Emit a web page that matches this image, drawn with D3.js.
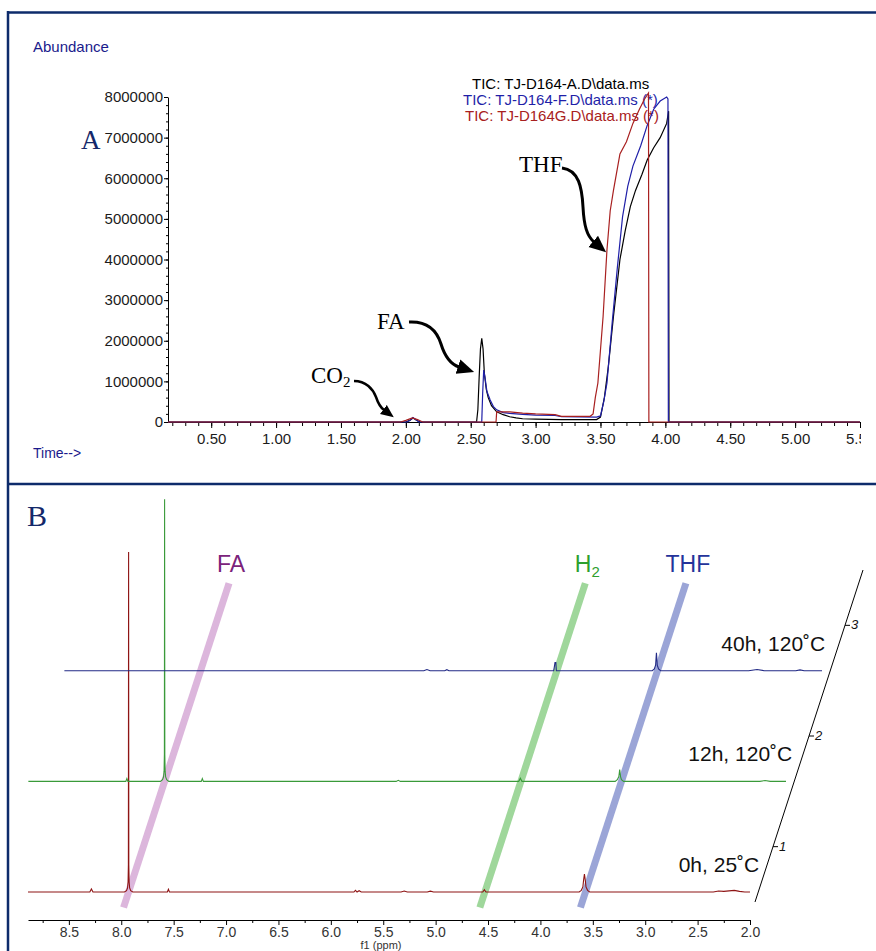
<!DOCTYPE html>
<html>
<head>
<meta charset="utf-8">
<script src="https://cdn.jsdelivr.net/npm/d3@7"></script>
<style>
  html, body { margin: 0; padding: 0; background: #fff; }
  svg { display: block; }
</style>
</head>
<body>
<svg id="fig" width="876" height="951"></svg>
<script>
// ---------- panel A : GC-MS total ion chromatograms ----------
var gcTimeTicks = [0.5, 1.0, 1.5, 2.0, 2.5, 3.0, 3.5, 4.0, 4.5, 5.0, 5.5];
var gcAbundTicks = [0, 1000000, 2000000, 3000000, 4000000, 5000000, 6000000, 7000000, 8000000];
var gcNames = ["TIC: TJ-D164-A.D\\data.ms", "TIC: TJ-D164-F.D\\data.ms (*)", "TIC: TJ-D164G.D\\data.ms (*)"];

// [time (min), abundance]
var ticA = [
  [0.167,0],[2.00,0],[2.03,40000],[2.055,100000],[2.08,50000],[2.11,0],
  [2.545,0],[2.555,300000],[2.565,1100000],[2.575,1800000],[2.585,2060000],[2.595,1800000],
  [2.605,1200000],[2.62,800000],[2.635,600000],[2.66,400000],[2.70,250000],[2.75,180000],
  [2.80,130000],[2.85,100000],[2.90,80000],[3.00,70000],[3.20,60000],[3.47,60000],
  [3.50,120000],[3.53,600000],[3.56,1350000],[3.60,2600000],[3.65,4000000],[3.69,4700000],
  [3.73,5300000],[3.77,5700000],[3.82,6100000],[3.86,6450000],[3.91,6750000],[3.96,7000000],
  [4.01,7350000],[4.025,7650000],[4.028,0],[5.5,0]
];
var ticF = [
  [0.167,0],[2.01,0],[2.035,50000],[2.055,110000],[2.08,50000],[2.10,0],
  [2.585,0],[2.592,700000],[2.60,1280000],[2.61,1100000],[2.625,750000],[2.65,540000],
  [2.675,380000],[2.70,300000],[2.75,230000],[2.80,210000],[2.90,190000],[3.00,170000],
  [3.15,160000],[3.20,130000],[3.47,120000],[3.50,150000],[3.525,500000],[3.55,960000],
  [3.59,2440000],[3.63,3800000],[3.67,5050000],[3.71,5800000],[3.75,6300000],[3.81,6800000],
  [3.86,7300000],[3.91,7700000],[3.96,7900000],[4.01,8000000],[4.02,7950000],[4.023,0],[5.5,0]
];
var ticG = [
  [0.167,0],[1.96,0],[2.00,40000],[2.05,100000],[2.09,60000],[2.13,0],
  [2.695,0],[2.70,250000],[2.80,250000],[2.90,220000],[3.00,200000],[3.10,190000],
  [3.15,180000],[3.20,140000],[3.42,140000],[3.443,200000],[3.46,600000],[3.48,960000],
  [3.52,2590000],[3.55,4240000],[3.575,5200000],[3.60,5700000],[3.65,6600000],[3.70,6900000],
  [3.75,7350000],[3.80,7700000],[3.84,7950000],[3.87,8100000],[3.873,0],[5.5,0]
];

// ---------- panel B : 1H NMR stack ----------
var nmrPpmTicks = [8.5, 8.0, 7.5, 7.0, 6.5, 6.0, 5.5, 5.0, 4.5, 4.0, 3.5, 3.0, 2.5, 2.0];
var nmrDepthTicks = [1, 2, 3];
var nmrLabels = ["0h, 25\u02DAC", "12h, 120\u02DAC", "40h, 120\u02DAC"];
var nmrMarkers = ["FA", "H2", "THF"];
var nmrMarkerPpm = [7.93, 4.53, 3.57];

// [ppm, intensity (% of the 0h formate peak)]
var nmr0h = [
  [8.89,0],[8.30,0],[8.285,0.9],[8.27,0],
  [7.97,0],[7.95,0.4],[7.94,1.2],[7.935,3],[7.932,8],[7.93,100],[7.928,8],[7.925,3],[7.92,1.2],[7.91,0.4],[7.89,0],
  [7.56,0],[7.55,0.8],[7.54,0],
  [5.78,0],[5.765,0.5],[5.75,0],[5.73,0.4],[5.71,0],[5.33,0],[5.30,0.3],[5.27,0],[5.08,0],[5.05,0.25],[5.02,0],
  [4.55,0],[4.535,0.7],[4.52,0],
  [3.63,0],[3.61,0.5],[3.595,1.5],[3.588,3.5],[3.58,5.3],[3.572,3.5],[3.565,1.5],[3.55,0.5],[3.53,0],
  [2.35,0],[2.30,0.3],[2.25,0.2],[2.20,0.35],[2.15,0.5],[2.10,0.2],[2.05,0],[2.0,0]
];
var nmr12h = [
  [9.23,0],[8.30,0],[8.29,0.8],[8.28,0],
  [7.97,0],[7.95,0.5],[7.94,1.3],[7.935,3],[7.932,8],[7.93,83],[7.928,8],[7.925,3],[7.92,1.3],[7.91,0.5],[7.89,0],
  [7.58,0],[7.57,0.8],[7.56,0],
  [5.72,0],[5.70,0.3],[5.68,0],
  [4.55,0],[4.535,0.9],[4.52,0],
  [3.63,0],[3.61,0.5],[3.595,1.4],[3.587,3.5],[3.579,1.4],[3.57,0.5],[3.55,0],
  [2.25,0],[2.20,0.25],[2.15,0],[2.0,0]
];
var nmr40h = [
  [9.23,0],[5.80,0],[5.77,0.35],[5.74,0],[5.60,0],[5.58,0.3],[5.56,0],
  [4.56,0],[4.548,2.4],[4.54,2.4],[4.535,0],
  [3.62,0],[3.60,0.5],[3.588,1.6],[3.58,5.3],[3.572,1.6],[3.56,0.5],[3.54,0],
  [2.70,0],[2.62,0.35],[2.55,0],[2.25,0],[2.21,0.25],[2.17,0],[2.0,0]
];

var sans = "'Liberation Sans', Arial, sans-serif";
var serif = "'Liberation Serif', 'Times New Roman', serif";
var navy = "#0d2b6b";

var svg = d3.select("#fig");
var defs = svg.append("defs");
defs.append("clipPath").attr("id", "clipA")
  .append("rect").attr("x", 0).attr("y", -500).attr("width", 861).attr("height", 1000);

function arrowHead(id, size) {
  defs.append("marker")
    .attr("id", id)
    .attr("viewBox", "0 -8 16 16")
    .attr("refX", 1).attr("refY", 0)
    .attr("markerUnits", "userSpaceOnUse")
    .attr("markerWidth", size).attr("markerHeight", size)
    .attr("orient", "auto")
    .append("path").attr("d", "M0,-7L16,0L0,7Z").attr("fill", "#000");
}
arrowHead("headBig", 17);
arrowHead("headSmall", 13);

// frame
svg.append("line").attr("x1", 7).attr("x2", 876).attr("y1", 12.5).attr("y2", 12.5)
  .attr("stroke", navy).attr("stroke-width", 2.5);
svg.append("line").attr("x1", 7).attr("x2", 876).attr("y1", 484).attr("y2", 484)
  .attr("stroke", navy).attr("stroke-width", 2.5);
svg.append("line").attr("x1", 8).attr("x2", 8).attr("y1", 11).attr("y2", 951)
  .attr("stroke", navy).attr("stroke-width", 2.5);

// ================= panel A =================
var pA = svg.append("g");
var xT = d3.scaleLinear().domain([0.167, 5.5]).range([168, 860]);
var yA = d3.scaleLinear().domain([0, 8000000]).range([422, 97]);

pA.append("text").attr("x", 33).attr("y", 52).text("Abundance")
  .attr("font-family", sans).attr("font-size", 15).attr("fill", "#1a1a8c");
pA.append("text").attr("x", 33).attr("y", 458).text("Time-->")
  .attr("font-family", sans).attr("font-size", 14).attr("fill", "#1a1a8c");
pA.append("text").attr("x", 81).attr("y", 149).text("A")
  .attr("font-family", serif).attr("font-size", 27).attr("fill", "#14286a");

// y axis
var yMinor = d3.range(0, 8000001, 200000);
pA.append("g").attr("transform", "translate(168,0)")
  .call(d3.axisLeft(yA).tickValues(yMinor).tickSize(2).tickSizeOuter(0).tickFormat(""))
  .call(g => g.select(".domain").remove());
var gy = pA.append("g").attr("transform", "translate(168,0)")
  .call(d3.axisLeft(yA).tickValues(gcAbundTicks).tickSize(4).tickSizeOuter(0).tickPadding(1).tickFormat(d3.format("d")));
gy.attr("font-family", sans).attr("font-size", 15);
gy.selectAll("text").attr("fill", "#1b1b1b");

// x axis
var xMinor = d3.range(2, 56).map(d => d / 10);
pA.append("g").attr("transform", "translate(0,422)").attr("clip-path", "url(#clipA)")
  .call(d3.axisBottom(xT).tickValues(xMinor).tickSize(4).tickSizeOuter(0).tickFormat(""))
  .call(g => g.select(".domain").remove());
var gx = pA.append("g").attr("transform", "translate(0,422)").attr("clip-path", "url(#clipA)")
  .call(d3.axisBottom(xT).tickValues(gcTimeTicks).tickSize(6).tickSizeOuter(0).tickPadding(5).tickFormat(d3.format(".2f")));
gx.attr("font-family", sans).attr("font-size", 15);
gx.selectAll("text").attr("fill", "#1b1b1b");

// legend text (drawn under the traces, as in the instrument print)
var gcColors = ["#000000", "#1f1fa8", "#a82020"];
var legendX = [472, 463, 465];
gcNames.forEach(function (n, i) {
  pA.append("text").attr("x", legendX[i]).attr("y", 89 + i * 16).text(n)
    .attr("font-family", sans).attr("font-size", 15).attr("fill", gcColors[i]);
});

var gcLine = d3.line().x(d => xT(d[0])).y(d => yA(d[1]));
[ticA, ticF, ticG].forEach(function (s, i) {
  pA.append("path").datum(s).attr("d", gcLine)
    .attr("fill", "none").attr("stroke", gcColors[i]).attr("stroke-width", 1.2)
    .attr("clip-path", "url(#clipA)");
});

// annotations
function annot(txt, sub, x, y) {
  var t = pA.append("text").attr("x", x).attr("y", y)
    .attr("font-family", serif).attr("font-size", 23).attr("fill", "#000").text(txt);
  if (sub) t.append("tspan").attr("font-size", 15).attr("dy", 4).text(sub);
}
annot("THF", null, 519, 172);
annot("FA", null, 377, 329);
annot("CO", "2", 311, 383);

pA.append("path").attr("d", "M562,168 C579,170 582,188 583,207 C584,226 587,236 594,242")
  .attr("fill", "none").attr("stroke", "#000").attr("stroke-width", 3).attr("marker-end", "url(#headBig)");
pA.append("path").attr("d", "M409,322 C428,321 437,331 441,344 C445,357 450,364 459,367")
  .attr("fill", "none").attr("stroke", "#000").attr("stroke-width", 3).attr("marker-end", "url(#headBig)");
pA.append("path").attr("d", "M354,381 C366,381 373,389 376,397 C378,403 380,407 384,410")
  .attr("fill", "none").attr("stroke", "#000").attr("stroke-width", 2.5).attr("marker-end", "url(#headSmall)");

// ================= panel B =================
var pB = svg.append("g");
pB.append("text").attr("x", 27).attr("y", 526).text("B")
  .attr("font-family", serif).attr("font-size", 30).attr("fill", "#14286a");

var xP = d3.scaleLinear().domain([8.89, 2.0]).range([28, 750]);
var depthY = d3.scaleLinear().domain([0.5, 3.5]).range([902, 570]);
var depthX = d3.scaleLinear().domain([0.5, 3.5]).range([755, 863]);
var inten = d3.scaleLinear().domain([0, 100]).range([0, 340]);
var traceDepth = [0.59, 1.59, 2.59];
function shift(d) { return depthX(d) - depthX(traceDepth[0]); }

// marker bands
var bandColors = ["#dcb6dc", "#9fd79b", "#9ba5d7"];
var labelColors = ["#7b237b", "#2ea02e", "#24339a"];
nmrMarkerPpm.forEach(function (p, i) {
  var d0 = 0.45, d1 = 3.38;
  pB.append("line")
    .attr("x1", xP(p) + shift(d0)).attr("y1", depthY(d0))
    .attr("x2", xP(p) + shift(d1)).attr("y2", depthY(d1))
    .attr("stroke", bandColors[i]).attr("stroke-width", 7);
  var t = pB.append("text").attr("x", xP(p) + shift(d1) + 2).attr("y", 572)
    .attr("text-anchor", "middle").attr("font-family", sans).attr("font-size", 23)
    .attr("fill", labelColors[i]);
  if (nmrMarkers[i] === "H2") {
    t.text("H");
    t.append("tspan").attr("font-size", 15).attr("dy", 5).text("2");
  } else {
    t.text(nmrMarkers[i]);
  }
});

// spectra
var nmrColors = ["#8e1414", "#3a9a3a", "#232b86"];
[nmr0h, nmr12h, nmr40h].forEach(function (s, i) {
  var d = traceDepth[i];
  var line = d3.line()
    .x(p => xP(p[0]) + shift(d))
    .y(p => depthY(d) - inten(p[1]));
  pB.append("path").datum(s).attr("d", line)
    .attr("fill", "none").attr("stroke", nmrColors[i]).attr("stroke-width", 1.1);
  pB.append("text").attr("x", depthX(d) + 1 - i * 3).attr("y", depthY(d) - 20)
    .attr("text-anchor", "end").attr("font-family", sans).attr("font-size", 21)
    .attr("fill", "#111").text(nmrLabels[i]);
});

// depth axis
pB.append("line")
  .attr("x1", depthX(0.5)).attr("y1", depthY(0.5))
  .attr("x2", depthX(3.5)).attr("y2", depthY(3.5))
  .attr("stroke", "#000").attr("stroke-width", 1);
nmrDepthTicks.forEach(function (k) {
  pB.append("line").attr("x1", depthX(k)).attr("x2", depthX(k) + 5)
    .attr("y1", depthY(k)).attr("y2", depthY(k)).attr("stroke", "#000");
  pB.append("text").attr("x", depthX(k) + 6).attr("y", depthY(k) + 4)
    .attr("font-family", sans).attr("font-size", 13).attr("font-style", "italic")
    .attr("fill", "#111").text(k);
});

// ppm axis
var ppmMinor = d3.range(2.25, 8.9, 0.5);
pB.append("g").attr("transform", "translate(0,920)")
  .call(d3.axisBottom(xP).tickValues(ppmMinor).tickSize(3).tickSizeOuter(0).tickFormat(""))
  .call(g => g.select(".domain").remove());
var gp = pB.append("g").attr("transform", "translate(0,920)")
  .call(d3.axisBottom(xP).tickValues(nmrPpmTicks).tickSize(5).tickSizeOuter(0).tickPadding(2).tickFormat(d3.format(".1f")));
gp.attr("font-family", sans).attr("font-size", 14);
gp.selectAll("text").attr("fill", "#333");
pB.append("text").attr("x", 381).attr("y", 948.5).attr("text-anchor", "middle")
  .attr("font-family", sans).attr("font-size", 11).attr("fill", "#333").text("f1 (ppm)");
</script>
</body>
</html>
